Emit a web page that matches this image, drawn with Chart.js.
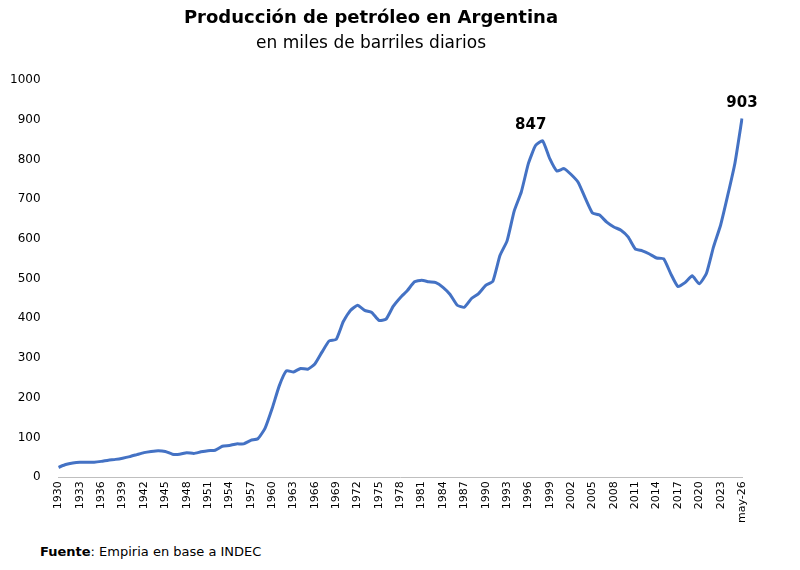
<!DOCTYPE html>
<html>
<head>
<meta charset="utf-8">
<script src="https://cdn.jsdelivr.net/npm/chart.js@4"></script>
<style>
body{margin:0;background:#fff;font-family:"DejaVu Sans",sans-serif;}
#wrap{position:relative;width:800px;height:527px;}
#fuente{position:absolute;left:40px;top:544px;font-size:13px;color:#000;}
</style>
</head>
<body>
<div id="wrap"><canvas id="grafico"></canvas></div>
<div id="fuente"><b>Fuente</b>: Empiria en base a INDEC</div>
<script>
const anios = [];
for (let a = 1930; a <= 2025; a++) anios.push(String(a));
anios.push('may-26');

const produccion = [25,32,36,38,38,38,40,43,45,48,52,57,62,65,67,65,58,58,62,60,
64,67,68,78,80,84,84,93,97,123,173,230,268,265,274,272,285,315,343,347,
392,420,433,420,415,395,398,430,452,470,492,496,492,490,478,460,433,428,450,462,
483,493,558,595,670,718,790,835,847,802,771,777,762,742,702,665,660,642,630,622,
605,575,570,562,552,550,512,480,490,507,487,513,580,635,710,790,903];

const etiquetas = {68: '847', 96: '903'};

const rotulos = {
  id: 'rotulos',
  afterDatasetsDraw(chart) {
    const ctx = chart.ctx;
    const pts = chart.getDatasetMeta(0).data;
    ctx.save();
    ctx.font = 'bold 15px "DejaVu Sans"';
    ctx.fillStyle = '#000';
    ctx.textAlign = 'center';
    ctx.textBaseline = 'bottom';
    for (const i in etiquetas) {
      const p = pts[i];
      ctx.fillText(etiquetas[i], p.x - (i == 96 ? 0 : 12), p.y - 8);
    }
    ctx.restore();
  }
};

new Chart(document.getElementById('grafico'), {
  type: 'line',
  data: {
    labels: anios,
    datasets: [{
      data: produccion,
      borderColor: '#4472C4',
      borderWidth: 3,
      pointRadius: 0,
      tension: 0.15,
      fill: false
    }]
  },
  plugins: [rotulos],
  options: {
    responsive: true,
    maintainAspectRatio: false,
    animation: false,
    layout: {padding: {left: 0, right: 58, top: 0, bottom: 0}},
    plugins: {
      legend: {display: false},
      tooltip: {enabled: false},
      title: {display: true, text: 'Producción de petróleo en Argentina',
        font: {family: '"DejaVu Sans"', size: 18, weight: 'bold'}, color: '#000',
        padding: {top: 8, bottom: 4}},
      subtitle: {display: true, text: 'en miles de barriles diarios',
        font: {family: '"DejaVu Sans"', size: 17}, color: '#000',
        padding: {bottom: 26}},
    },
    scales: {
      x: {
        grid: {display: false, drawTicks: false},
        border: {color: '#bfbfbf'},
        ticks: {
          autoSkip: false, maxRotation: 90, minRotation: 90, color: '#000',
          font: {family: '"DejaVu Sans"', size: 11}, padding: 4,
          callback: function(v, i) { return (i % 3 === 0) ? anios[i] : null; }
        }
      },
      y: {
        min: 0, max: 1000,
        grid: {display: false},
        border: {display: false},
        ticks: {stepSize: 100, color: '#000', font: {family: '"DejaVu Sans"', size: 12}, padding: 10,
          callback: function(v) { return String(v); }}
      }
    }
  }
});
</script>
</body>
</html>
